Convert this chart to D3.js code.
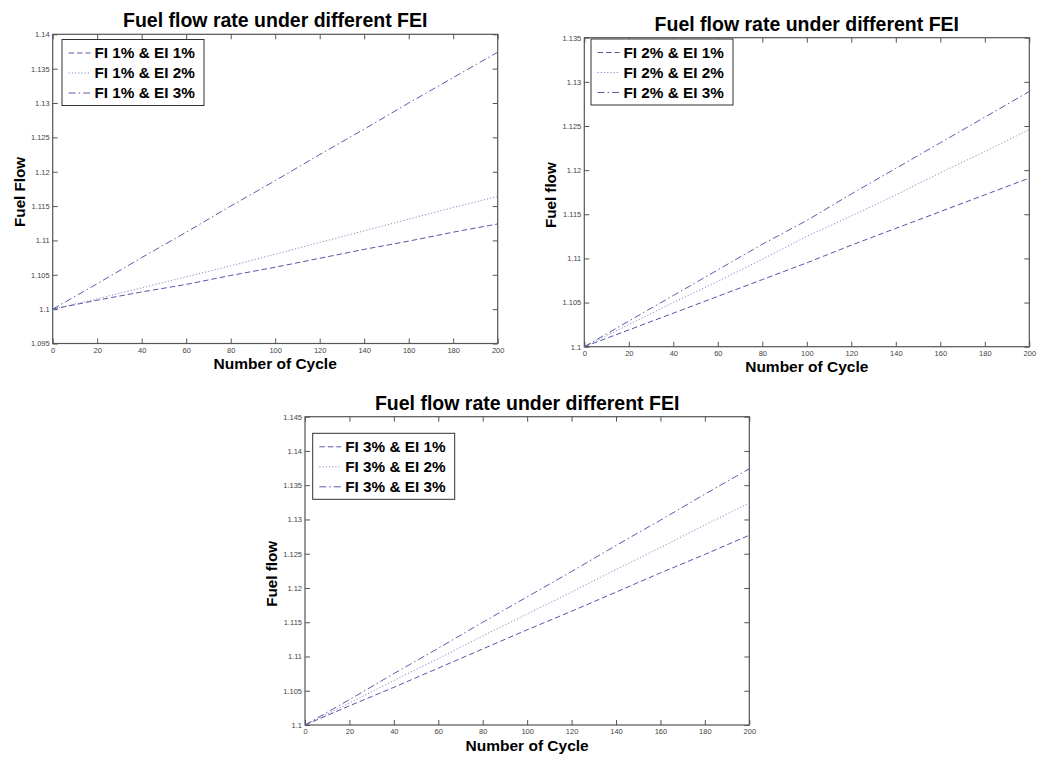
<!DOCTYPE html>
<html>
<head>
<meta charset="utf-8">
<script src="https://cdn.jsdelivr.net/npm/d3@7"></script>
<style>
  body { margin: 0; background: #fff; }
  svg text { font-family: "Liberation Sans", Arial, sans-serif; }
</style>
</head>
<body>
<script>
// cycles sampled along the x axis
const cycles = [0, 20, 40, 60, 80, 100, 120, 140, 160, 180, 200];

// fuel flow, FI 1%
const fi1ei1 = [1.1, 1.1013, 1.1025, 1.1036, 1.1049, 1.1061, 1.1074, 1.1087, 1.1099, 1.1112, 1.1124];
const fi1ei2 = [1.1, 1.1015, 1.1031, 1.1047, 1.1063, 1.1080, 1.1097, 1.1114, 1.1131, 1.1148, 1.1164];
const fi1ei3 = [1.1, 1.1037, 1.1075, 1.1112, 1.1150, 1.1187, 1.1225, 1.1262, 1.1300, 1.1337, 1.1374];

// fuel flow, FI 2%
const fi2ei1 = [1.1, 1.1019, 1.1038, 1.1057, 1.1076, 1.1095, 1.1115, 1.1134, 1.1153, 1.1172, 1.1191];
const fi2ei2 = [1.1, 1.1025, 1.1050, 1.1074, 1.1099, 1.1125, 1.1148, 1.1172, 1.1197, 1.1221, 1.1246];
const fi2ei3 = [1.1, 1.1029, 1.1058, 1.1087, 1.1116, 1.1143, 1.1173, 1.1202, 1.1231, 1.1260, 1.1289];

// fuel flow, FI 3%
const fi3ei1 = [1.1, 1.1028, 1.1055, 1.1083, 1.1111, 1.1139, 1.1166, 1.1194, 1.1222, 1.1249, 1.1277];
const fi3ei2 = [1.1, 1.1032, 1.1065, 1.1097, 1.1130, 1.1162, 1.1194, 1.1227, 1.1259, 1.1292, 1.1324];
const fi3ei3 = [1.1, 1.1037, 1.1075, 1.1112, 1.1150, 1.1187, 1.1224, 1.1262, 1.1299, 1.1337, 1.1374];

const legend1 = ['FI 1% & EI 1%', 'FI 1% & EI 2%', 'FI 1% & EI 3%'];
const legend2 = ['FI 2% & EI 1%', 'FI 2% & EI 2%', 'FI 2% & EI 3%'];
const legend3 = ['FI 3% & EI 1%', 'FI 3% & EI 2%', 'FI 3% & EI 3%'];

const xTicks = [0, 20, 40, 60, 80, 100, 120, 140, 160, 180, 200];
const yTicks1 = [1.095, 1.1, 1.105, 1.11, 1.115, 1.12, 1.125, 1.13, 1.135, 1.14];
const yTicks2 = [1.1, 1.105, 1.11, 1.115, 1.12, 1.125, 1.13, 1.135];
const yTicks3 = [1.1, 1.105, 1.11, 1.115, 1.12, 1.125, 1.13, 1.135, 1.14, 1.145];

const width = 1040,
    height = 758;

const svg = d3.select('body').append('svg')
    .attr('width', width)
    .attr('height', height);

const panels = [
  { left: 52.7, right: 497.7, top: 34.3, bottom: 343.5, yTicks: yTicks1, yLabel: 'Fuel Flow',
    series: [fi1ei1, fi1ei2, fi1ei3], names: legend1, legend: [62, 39.5] },
  { left: 584.3, right: 1029.3, top: 37.7, bottom: 346.7, yTicks: yTicks2, yLabel: 'Fuel flow',
    series: [fi2ei1, fi2ei2, fi2ei3], names: legend2, legend: [591, 39] },
  { left: 305, right: 749.3, top: 416.7, bottom: 725, yTicks: yTicks3, yLabel: 'Fuel flow',
    series: [fi3ei1, fi3ei2, fi3ei3], names: legend3, legend: [312.7, 433.3] }
];

// dashed, dotted, dash-dot
const dashes = ['5.5,3', '1.2,2', '7,3,1.5,3'];
const colors = ['#5656a8', '#8a8ac6', '#5a5aac'];
const fmt = d => String(+d.toFixed(3));

panels.forEach(p => {
  const x = d3.scaleLinear().domain([0, 200]).range([p.left, p.right]);
  const y = d3.scaleLinear()
      .domain([p.yTicks[0], p.yTicks[p.yTicks.length - 1]])
      .range([p.bottom, p.top]);

  const g = svg.append('g');

  // inward ticks on all four sides, labels only bottom and left
  const styleAxis = a => {
    a.select('.domain').remove();
    a.selectAll('line').attr('stroke', '#555');
    a.attr('font-size', 7.5).attr('font-family', null);
    a.selectAll('text').attr('fill', '#444');
  };

  g.append('g')
      .attr('transform', `translate(0,${p.bottom})`)
      .call(d3.axisBottom(x).tickValues(xTicks).tickSizeInner(-5).tickSizeOuter(0).tickPadding(4))
      .call(styleAxis);
  g.append('g')
      .attr('transform', `translate(0,${p.top})`)
      .call(d3.axisTop(x).tickValues(xTicks).tickSizeInner(-5).tickSizeOuter(0).tickFormat(''))
      .call(styleAxis);
  g.append('g')
      .attr('transform', `translate(${p.left},0)`)
      .call(d3.axisLeft(y).tickValues(p.yTicks).tickSizeInner(-5).tickSizeOuter(0).tickPadding(3).tickFormat(fmt))
      .call(styleAxis);
  g.append('g')
      .attr('transform', `translate(${p.right},0)`)
      .call(d3.axisRight(y).tickValues(p.yTicks).tickSizeInner(-5).tickSizeOuter(0).tickFormat(''))
      .call(styleAxis);

  g.append('rect')
      .attr('x', p.left)
      .attr('y', p.top)
      .attr('width', p.right - p.left)
      .attr('height', p.bottom - p.top)
      .attr('fill', 'none')
      .attr('stroke', '#555')
      .attr('stroke-width', 1.2);

  const line = d3.line()
      .x((d, i) => x(cycles[i]))
      .y(d => y(d));

  g.selectAll('.series')
      .data(p.series)
      .enter().append('path')
      .attr('class', 'series')
      .attr('d', line)
      .attr('fill', 'none')
      .attr('stroke', (d, i) => colors[i])
      .attr('stroke-width', 1)
      .attr('stroke-dasharray', (d, i) => dashes[i]);

  const cx = (p.left + p.right) / 2;

  g.append('text')
      .attr('x', cx)
      .attr('y', p.top - 7)
      .attr('text-anchor', 'middle')
      .attr('font-size', 19.5)
      .attr('font-weight', 'bold')
      .text('Fuel flow rate under different FEI');

  g.append('text')
      .attr('x', cx)
      .attr('y', p.bottom + 25.5)
      .attr('text-anchor', 'middle')
      .attr('font-size', 15.5)
      .attr('font-weight', 'bold')
      .text('Number of Cycle');

  g.append('text')
      .attr('transform', `translate(${p.left - 28},${(p.top + p.bottom) / 2 + 3}) rotate(-90)`)
      .attr('text-anchor', 'middle')
      .attr('font-size', 15.2)
      .attr('font-weight', 'bold')
      .text(p.yLabel);

  // legend box
  const [lx, ly] = p.legend;
  const lg = g.append('g').attr('transform', `translate(${lx},${ly})`);
  lg.append('rect')
      .attr('width', 142)
      .attr('height', 66)
      .attr('fill', '#fff')
      .attr('stroke', '#333');

  const rows = lg.selectAll('.row')
      .data(p.names)
      .enter().append('g')
      .attr('class', 'row')
      .attr('transform', (d, i) => `translate(0,${18.5 + i * 20})`);

  rows.append('line')
      .attr('x1', 6.6)
      .attr('x2', 28.5)
      .attr('y1', -5)
      .attr('y2', -5)
      .attr('stroke', (d, i) => colors[i])
      .attr('stroke-dasharray', (d, i) => dashes[i]);

  rows.append('text')
      .attr('x', 32.5)
      .attr('font-size', 15.3)
      .attr('font-weight', 'bold')
      .text(d => d);
});
</script>
</body>
</html>
